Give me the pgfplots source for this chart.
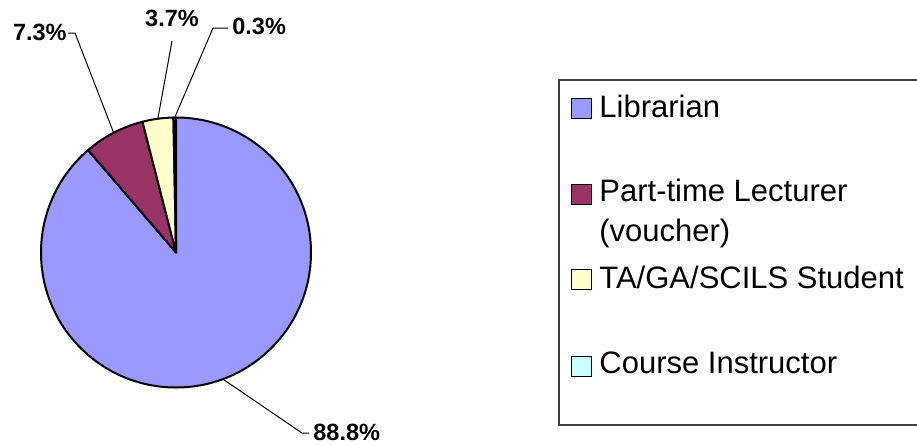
\documentclass[border=0pt]{standalone}
\usepackage{fontspec}
\setmainfont{Liberation Sans}
\usepackage{pgfplots}
\pgfplotsset{compat=1.18}
\usepackage{pgfplotstable}
\definecolor{libc}{HTML}{9999FF}
\definecolor{ptc}{HTML}{993366}
\definecolor{tac}{HTML}{FFFFCC}
\definecolor{cic}{HTML}{CCFFFF}
\definecolor{boxc}{HTML}{404040}

\pgfplotstableread{
label value
Librarian 88.8
Lecturer 7.3
Student 3.7
Instructor 0.3
}\piedata

\begin{document}
\begin{tikzpicture}
\pgfplotstablegetelem{0}{value}\of\piedata\global\let\vA\pgfplotsretval
\pgfplotstablegetelem{1}{value}\of\piedata\global\let\vB\pgfplotsretval
\pgfplotstablegetelem{2}{value}\of\piedata\global\let\vC\pgfplotsretval
\pgfplotstablegetelem{3}{value}\of\piedata\global\let\vD\pgfplotsretval
\pgfmathsetmacro\tot{\vA+\vB+\vC+\vD}
\pgfmathsetmacro\aA{90}
\pgfmathsetmacro\aB{\aA-(\vA/\tot)*360}
\pgfmathsetmacro\aC{\aB-(\vB/\tot)*360}
\pgfmathsetmacro\aD{\aC-(\vC/\tot)*360}
\pgfmathsetmacro\aE{\aD-(\vD/\tot)*360}
\pgfmathsetmacro\mA{(\aA+\aB)/2}
\pgfmathsetmacro\mB{(\aB+\aC)/2}
\pgfmathsetmacro\mC{(\aC+\aD)/2}
\pgfmathsetmacro\mD{(\aD+\aE)/2}
\begin{axis}[scale only axis, width=458.5pt, height=222.5pt,
  xmin=0, xmax=917, ymin=0, ymax=445, y dir=reverse,
  hide axis, clip=false]
\coordinate (bbsw) at (axis cs:0,445);
\coordinate (bbne) at (axis cs:917,0);
% pie slices
\filldraw[fill=libc, draw=black, line width=1pt, line join=round]
  (axis cs:176,252.5) -- ++(\aA:67.5pt) arc[start angle=\aA, end angle=\aB, radius=67.5pt] -- cycle;
\filldraw[fill=ptc, draw=black, line width=1pt, line join=round]
  (axis cs:176,252.5) -- ++(\aB:67.5pt) arc[start angle=\aB, end angle=\aC, radius=67.5pt] -- cycle;
\filldraw[fill=tac, draw=black, line width=1pt, line join=round]
  (axis cs:176,252.5) -- ++(\aC:67.5pt) arc[start angle=\aC, end angle=\aD, radius=67.5pt] -- cycle;
\filldraw[fill=cic, draw=black, line width=1pt, line join=round]
  (axis cs:176,252.5) -- ++(\aD:67.5pt) arc[start angle=\aD, end angle=\aE, radius=67.5pt] -- cycle;
% leader lines
\draw[line width=0.5pt] (axis cs:{176+135*cos(\mB)},{252.5-135*sin(\mB)}) -- (axis cs:75,33) -- (axis cs:68,33);
\draw[line width=0.5pt] (axis cs:{176+135*cos(\mC)},{252.5-135*sin(\mC)}) -- (axis cs:172,41);
\draw[line width=0.5pt] (axis cs:{176+135*cos(\mD)},{252.5-135*sin(\mD)}) -- (axis cs:213,28) -- (axis cs:228,28);
\draw[line width=0.5pt] (axis cs:{176+135*cos(\mA)},{252.5-135*sin(\mA)}) -- (axis cs:302,433) -- (axis cs:309,433);
% labels
\node[anchor=base east, inner sep=0pt, font=\fontsize{11.75}{14}\selectfont\bfseries] at (axis cs:67,40) {7.3\%};
\node[anchor=base, inner sep=0pt, font=\fontsize{11.75}{14}\selectfont\bfseries] at (axis cs:172,26) {3.7\%};
\node[anchor=base west, inner sep=0pt, font=\fontsize{11.75}{14}\selectfont\bfseries] at (axis cs:232,34) {0.3\%};
\node[anchor=base west, inner sep=0pt, font=\fontsize{11.75}{14}\selectfont\bfseries] at (axis cs:313,440) {88.8\%};
% legend box
\draw[boxc, line width=0.75pt] (axis cs:920,80) -- (axis cs:559,80) -- (axis cs:559,425) -- (axis cs:920,425);
\filldraw[fill=libc, draw=black, line width=0.5pt] (axis cs:571,98) rectangle (axis cs:591,118);
\filldraw[fill=ptc, draw=black, line width=0.5pt] (axis cs:571,184.5) rectangle (axis cs:591,204.5);
\filldraw[fill=tac, draw=black, line width=0.5pt] (axis cs:571,269.5) rectangle (axis cs:591,289.5);
\filldraw[fill=cic, draw=black, line width=0.5pt] (axis cs:571,356) rectangle (axis cs:591,376);
\node[anchor=base west, inner sep=0pt, font=\fontsize{15.5}{18}\selectfont] at (axis cs:599,117) {Librarian};
\node[anchor=base west, inner sep=0pt, font=\fontsize{15.5}{18}\selectfont] at (axis cs:599,201) {Part-time Lecturer};
\node[anchor=base west, inner sep=0pt, font=\fontsize{15.5}{18}\selectfont] at (axis cs:599,241) {(voucher)};
\node[anchor=base west, inner sep=0pt, font=\fontsize{15.5}{18}\selectfont] at (axis cs:599,288) {TA/GA/SCILS Student};
\node[anchor=base west, inner sep=0pt, font=\fontsize{15.5}{18}\selectfont] at (axis cs:599,373) {Course Instructor};
\end{axis}
\pgfresetboundingbox
\path[use as bounding box] (bbsw) rectangle (bbne);
\end{tikzpicture}
\end{document}
